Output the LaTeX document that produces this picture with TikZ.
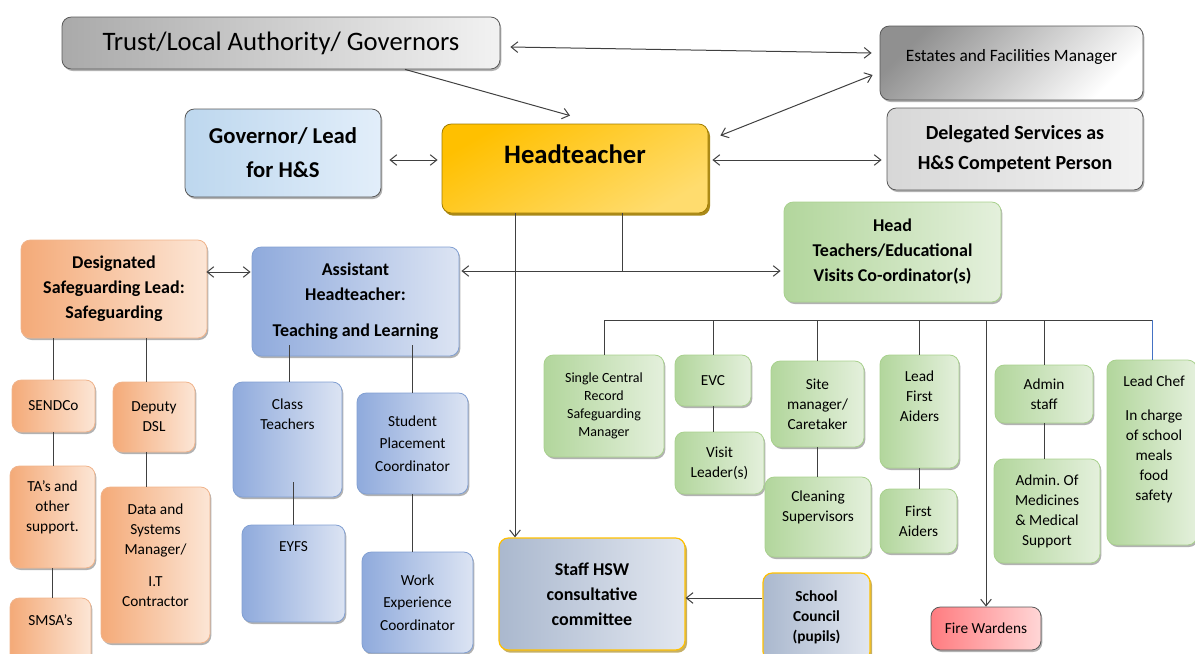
\documentclass[tikz,border=0pt]{standalone}
\usepackage{fontspec}
\setmainfont{Carlito}
\usetikzlibrary{positioning,calc,arrows.meta,shadows}

\definecolor{lineg}{RGB}{64,64,64}
\definecolor{gryA}{RGB}{170,170,170}
\definecolor{gryB}{RGB}{242,242,242}
\definecolor{gryC}{RGB}{215,215,215}
\definecolor{gryD}{RGB}{90,90,90}
\definecolor{govA}{RGB}{189,215,238}
\definecolor{govB}{RGB}{226,238,250}
\definecolor{hdA}{RGB}{255,192,0}
\definecolor{hdB}{RGB}{255,220,110}
\definecolor{hdD}{RGB}{160,124,0}
\definecolor{grnA}{RGB}{178,214,156}
\definecolor{grnB}{RGB}{228,240,220}
\definecolor{grnD}{RGB}{169,209,142}
\definecolor{orgA}{RGB}{244,170,120}
\definecolor{orgB}{RGB}{252,230,214}
\definecolor{orgD}{RGB}{240,180,140}
\definecolor{bluA}{RGB}{143,170,220}
\definecolor{bluB}{RGB}{220,228,243}
\definecolor{bluD}{RGB}{130,160,210}
\definecolor{stfA}{RGB}{170,184,206}
\definecolor{stfB}{RGB}{226,231,240}
\definecolor{stfD}{RGB}{255,192,0}
\definecolor{firA}{RGB}{255,124,128}
\definecolor{firB}{RGB}{255,214,214}
\definecolor{chefl}{RGB}{68,114,196}

\newcommand\fbig{\fontsize{20}{24}\selectfont}
\newcommand\fhead{\bfseries\fontsize{20}{24}\selectfont}
\newcommand\fgov{\bfseries\fontsize{17}{25.5}\selectfont}
\newcommand\fdel{\bfseries\fontsize{15}{23}\selectfont}
\newcommand\fest{\fontsize{13}{16}\selectfont}
\newcommand\fmid{\bfseries\fontsize{13.5}{18.75}\selectfont}
\newcommand\fsmb{\bfseries\fontsize{11.5}{15}\selectfont}
\newcommand\fsm{\fontsize{11.5}{15}\selectfont}
\newcommand\fsmx{\fontsize{11.5}{16.8}\selectfont}
\newcommand\ftiny{\fontsize{10.5}{13.5}\selectfont}

\tikzset{
  wh/.style 2 args={minimum width=#1*0.75pt, minimum height=#2*0.75pt},
  box/.style={draw, rounded corners=7pt, align=center, inner sep=2pt, line width=0.6pt, text=black},
  shd/.style={drop shadow={shadow xshift=1pt, shadow yshift=-1.5pt, opacity=0.3, fill=black}},
  greybox/.style={shd, left color=gryA, right color=gryB, draw=gryD},
  estbox/.style={shd, top color=gryA!85!black, bottom color=white, shading angle=45, draw=gryD},
  delbox/.style={shd, left color=gryC, right color=gryB, draw=gryD},
  govbox/.style={shd, left color=govA, right color=govB, draw=gryD},
  headbox/.style={drop shadow={shadow xshift=1.5pt, shadow yshift=-2pt, opacity=0.9, fill=hdD},
    top color=hdA, bottom color=hdB, shading angle=30, draw=hdD},
  greenbox/.style={shd, left color=grnA, right color=grnB, draw=grnD},
  orangebox/.style={shd, left color=orgA, right color=orgB, draw=orgD},
  bluebox/.style={shd, left color=bluA, right color=bluB, draw=bluD},
  staffbox/.style={drop shadow={shadow xshift=1.5pt, shadow yshift=-2pt, opacity=0.6, fill=hdD},
    left color=stfA, right color=stfB, draw=stfD, line width=0.9pt},
  firebox/.style={shd, left color=firA, right color=firB, draw=gryD},
  con/.style={draw=lineg, line width=0.75pt},
  arr/.style={con, -{Straight Barb[length=5pt,width=8pt]}},
  biarr/.style={con, {Straight Barb[length=5pt,width=8pt]}-{Straight Barb[length=5pt,width=8pt]}},
}

\begin{document}
\begin{tikzpicture}[x=0.75pt,y=0.75pt,yscale=-1,xscale=1]
    \useasboundingbox (0,0) rectangle (1195,653);
    \clip (0,0) rectangle (1195,653);

    %Shape: Rounded Rect [top row]
    \node[box, greybox, wh={438}{52}, font=\fbig] (trust) at (281,43) {Trust/Local Authority/ Governors};
    \node[box, estbox, wh={263}{74}] (estates) at (1011.5,63) {};
    \node[font=\fest] (estates-t) at ($(estates)+(0,-6)$) {Estates and Facilities Manager};
    \node[box, govbox, wh={196}{88}, font=\fgov] (gov) at (283,153) {Governor/ Lead\\for H\&S};
    \node[box, headbox, wh={266}{89}] (head) at (575,168.5) {};
    \node[font=\fhead] (head-t) at ($(head)+(0,-14.5)$) {Headteacher};
    \node[box, delbox, wh={256}{82}, font=\fdel] (deleg) at (1015,149) {Delegated Services as\\H\&S Competent Person};

    %Shape: Rounded Rect [second row]
    \node[box, orangebox, wh={186}{98}, font=\fmid] (dsl) at (114,289) {Designated\\Safeguarding Lead:\\Safeguarding};
    \node[box, bluebox, wh={207}{109}, font=\fmid] (asst) at (355.5,301.5) {Assistant\\Headteacher:\\[8pt]Teaching and Learning};
    \node[box, greenbox, wh={217}{100}, font=\fmid] (hevc) at (892.5,252) {Head\\Teachers/Educational\\Visits Co-ordinator(s)};

    %Shape: Rounded Rect [safeguarding]
    \node[box, orangebox, wh={83}{52}, font=\fsm] (sendco) at (53.5,406) {SENDCo};
    \node[box, orangebox, wh={82}{70}, font=\fsm] (deputy) at (154,417) {Deputy\\DSL};
    \node[box, orangebox, wh={85}{102}] (tas) at (52.5,517) {};
    \node[font=\fsm, align=center] (tas-t) at ($(tas)+(0,-10)$) {TA’s and\\other\\support.};
    \node[box, orangebox, wh={109}{156}] (data) at (155.5,565) {};
    \node[font=\fsm, align=center] (data-t) at ($(data)+(0,-9.5)$) {Data and\\Systems\\Manager/\\[9pt]I.T\\Contractor};
    \node[box, orangebox, wh={81}{70}] (smsa) at (50.5,633) {};
    \node[font=\fsm] (smsa-t) at ($(smsa)+(0,-13)$) {SMSA’s};

    %Shape: Rounded Rect [teaching]
    \node[box, bluebox, wh={109}{115}] (class) at (287.5,439.5) {};
    \node[font=\fsm, align=center] (class-t) at ($(class)+(0,-25.5)$) {Class\\Teachers};
    \node[box, bluebox, wh={103}{97}] (eyfs) at (293.5,573.5) {};
    \node[font=\fsm] (eyfs-t) at ($(eyfs)+(0,-26.5)$) {EYFS};
    \node[box, bluebox, wh={111}{101}, font=\fsmx] (student) at (412.5,443.5) {Student\\Placement\\Coordinator};
    \node[box, bluebox, wh={111}{101}, font=\fsmx] (work) at (417.5,602.5) {Work\\Experience\\Coordinator};

    %Shape: Rounded Rect [consultation]
    \node[box, staffbox, wh={186}{112}, font=\fmid] (staff) at (592,594) {Staff HSW\\consultative\\committee};
    \node[box, staffbox, wh={107}{88}, font=\fsmb] (council) at (816.5,617) {School\\Council\\(pupils)};

    %Shape: Rounded Rect [visits and site]
    \node[box, greenbox, wh={120}{102}, font=\ftiny] (scr) at (604,406) {Single Central\\Record\\Safeguarding\\Manager};
    \node[box, greenbox, wh={76}{51}, font=\fsm] (evc) at (713,380.5) {EVC};
    \node[box, greenbox, wh={89}{62}, font=\fsm] (visit) at (719.5,463) {Visit\\Leader(s)};
    \node[box, greenbox, wh={93}{86}, font=\fsm] (site) at (817.5,404) {Site\\manager/\\Caretaker};
    \node[box, greenbox, wh={106}{80}] (clean) at (818,517) {};
    \node[font=\fsm, align=center] (clean-t) at ($(clean)+(0,-10)$) {Cleaning\\Supervisors};
    \node[box, greenbox, wh={79}{113}] (leadfa) at (919.5,411.5) {};
    \node[font=\fsm, align=center] (leadfa-t) at ($(leadfa)+(0,-15.5)$) {Lead\\First\\Aiders};
    \node[box, greenbox, wh={77}{64}, font=\fsm] (fa) at (918.5,521) {First\\Aiders};
    \node[box, greenbox, wh={98}{58}, font=\fsm] (admin) at (1044,394) {Admin\\staff};
    \node[box, greenbox, wh={106}{104}, font=\fsm] (med) at (1047,511) {Admin.\ Of\\Medicines\\\& Medical\\Support};
    \node[box, greenbox, wh={90}{185}] (chef) at (1152,452.5) {};
    \node[font=\fsm, align=center] (chef-t) at ($(chef)+(2,-13)$) {Lead Chef\\[10pt]In charge\\of school\\meals\\food\\safety};
    \node[box, firebox, wh={110}{43}, font=\fsm] (fire) at (986,628.5) {Fire Wardens};

    %Straight Lines [top arrows]
    \draw[biarr] ($(trust.east)+(10,4)$) -- ($(estates.west)+(-8,-10)$);
    \draw[arr] ($(trust.south)+(124,0)$) -- ($(head.north)+(-5,-8)$);
    \draw[biarr] ($(estates.west)+(-7,12)$) -- ($(head.east)+(12,-33)$);
    \draw[biarr] ($(gov.east)+(8,7)$) -- ($(head.west)+(-4,-8.5)$);
    \draw[biarr] ($(head.east)+(4,-8.5)$) -- ($(deleg.west)+(-5,11)$);

    %Straight Lines [from headteacher]
    \coordinate (hd-l) at ($(head.south)+(-60,0)$);
    \coordinate (hd-r) at ($(head.south)+(47,0)$);
    \draw[arr] (hd-l) -- (hd-l |- staff.north);
    \draw[biarr] ($(asst.east)+(2,-30.5)$) coordinate (a-in) -- ($(hevc.west)+(-3,19)$);
    \draw[con] (hd-r) -- (hd-r |- a-in);
    \draw[biarr] ($(dsl.east)+(-1,-17)$) -- ($(asst.west)+(-1,-29.5)$);

    %Straight Lines [safeguarding]
    \draw[con] (sendco.north |- dsl.south) -- (sendco.north);
    \draw[con] ($(deputy.north)+(-8,0)$) coordinate (dp) -- (dp |- dsl.south);
    \draw[con] (sendco.south) -- (sendco.south |- tas.north);
    \draw[con] (tas.south) -- (tas.south |- smsa.north);
    \draw[con] ($(deputy.south)+(-8,0)$) coordinate (dd) -- (dd |- data.north);

    %Straight Lines [teaching]
    \draw[con] ($(class.north)+(1.5,0)$) -- ++(0,-37);
    \draw[con] (student.north) -- ++(0,-48);
    \draw[con] (eyfs.north) -- ++(0,-43);
    \draw[con] (student.south) -- (student.south |- work.north);
    \draw[arr] ($(council.west)+(0,-19)$) coordinate (sc) -- (sc -| staff.east);

    %Straight Lines [visits bar]
    \coordinate (bar) at (0,320);
    \draw[con] (scr.north) |- (bar -| chef.north);
    \draw[con, draw=chefl] (bar -| chef.north) -- (chef.north);
    \foreach \n in {evc,site,leadfa,admin}
      \draw[con] (\n.north) -- (\n.north |- bar);
    \draw[arr] (fire.north |- bar) -- (fire.north);
    \draw[con] (evc.south) -- (evc.south |- visit.north);
    \draw[con] (site.south) -- (site.south |- clean.north);
    \draw[con] (leadfa.south) -- (leadfa.south |- fa.north);
    \draw[con] (admin.south) -- (admin.south |- med.north);
\end{tikzpicture}
\end{document}
